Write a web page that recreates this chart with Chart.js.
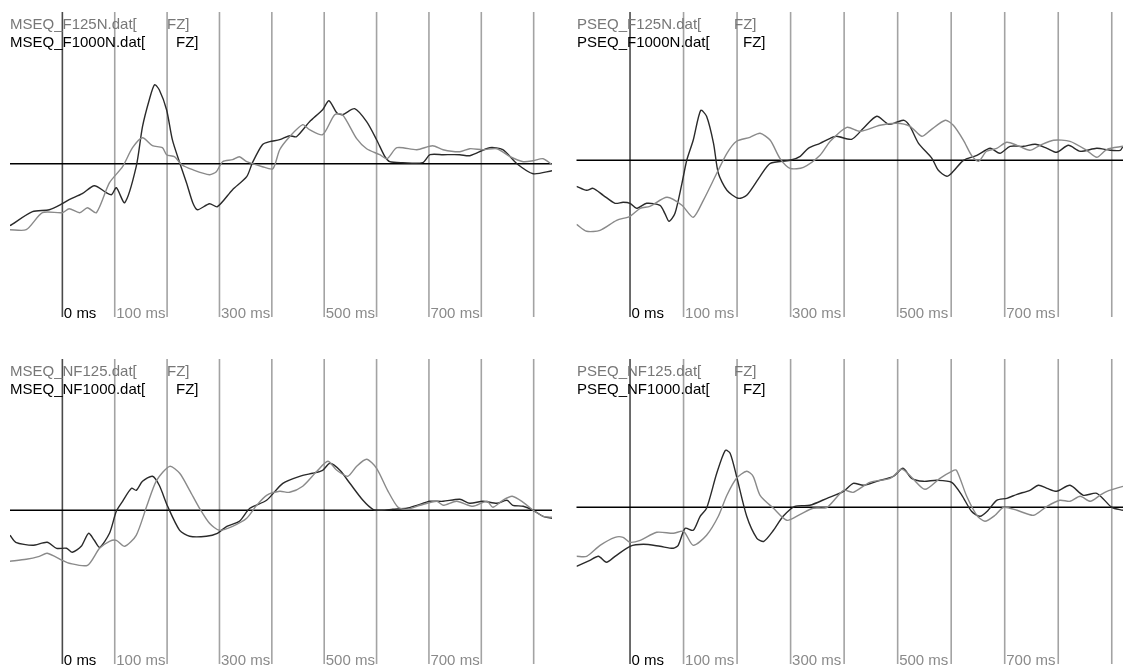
<!DOCTYPE html>
<html>
<head>
<meta charset="utf-8">
<script src="https://cdn.jsdelivr.net/npm/chart.js@4.4.1/dist/chart.umd.min.js"></script>
<style>
    body { margin: 0; background: #fff; }
    #page { position: relative; width: 1123px; height: 668px; overflow: hidden; background: #fff; }
    .panel { position: absolute; }
    .title { position: absolute; font: 15px "Liberation Sans", Arial, sans-serif; line-height: 18px; white-space: nowrap; }
    .title div { position: relative; }
    .title span { position: absolute; top: 0; }
</style>
</head>
<body>
<div id="page">
    <div class="panel" style="left:0;top:0;width:560px;height:334px"><canvas id="c0"></canvas></div>
    <div class="panel" style="left:560px;top:0;width:563px;height:334px"><canvas id="c1"></canvas></div>
    <div class="panel" style="left:0;top:347px;width:560px;height:321px"><canvas id="c2"></canvas></div>
    <div class="panel" style="left:560px;top:347px;width:563px;height:321px"><canvas id="c3"></canvas></div>
</div>
<script>
// time in ms, amplitude in arbitrary units (positive up)
const gridTicks = [0, 100, 200, 300, 400, 500, 600, 700, 800, 900];
const labelTicks = [0, 100, 300, 500, 700];

// MSEQ, filtered
const mseqF125N_t = [-100,-69,-38,0,13,33,48,65,90,115,134,153,172,191,199,214,228,249,281,294,306,325,338,352,382,402,415,434,459,472,497,520,535,562,581,606,620,639,677,707,727,759,778,803,830,855,880,899,918,935];
const mseqF125N_v = [-6.6,-6.6,-4.9,-4.9,-4.5,-4.9,-4.4,-4.9,-1.9,-0.3,1.6,2.6,1.8,1.6,0.9,0.7,-0.1,-0.6,-1.1,-0.8,0.2,0.4,0.7,0.2,-0.3,-0.5,1.4,2.7,3.9,3.4,2.9,4.9,4.9,2.5,1.5,0.9,0.5,1.6,1.4,1.8,1.4,1.2,1.5,1.4,1.5,0.7,0.2,0.3,0.5,-0.1];
const mseqF1000N_t = [-100,-57,-25,0,13,38,61,84,94,103,119,141,153,166,176,185,199,210,224,237,249,258,281,296,325,352,363,382,396,415,434,447,472,497,509,524,535,558,581,600,616,625,650,688,702,727,759,778,816,841,868,899,935];
const mseqF1000N_v = [-6.2,-4.8,-4.6,-4.0,-3.6,-3.0,-2.2,-2.9,-3.1,-2.4,-3.9,-0.3,3.7,6.4,7.9,7.4,5.4,2.4,0.1,-1.9,-3.9,-4.6,-4.0,-4.3,-2.6,-1.3,0.1,1.9,2.2,2.4,2.8,2.7,4.2,5.4,6.3,5.1,4.9,5.5,4.2,2.4,0.7,0.2,0.1,0.1,0.9,0.9,0.9,0.8,1.6,1.4,0.0,-1.0,-0.7];

// PSEQ, filtered
const pseqF125N_t = [-100,-81,-56,-25,0,19,37,69,97,118,137,162,181,199,224,243,262,280,299,324,355,374,405,430,467,498,523,545,561,589,604,623,638,651,666,685,704,723,747,766,791,822,853,872,891,921];
const pseqF125N_v = [-6.4,-7.1,-7.0,-6.0,-5.6,-4.8,-4.6,-3.7,-4.5,-5.7,-4.0,-1.3,0.7,1.9,2.3,2.7,2.0,0.2,-0.8,-0.7,0.5,1.9,3.3,2.9,3.5,3.7,3.4,2.4,3.0,4.0,3.5,2.0,0.5,-0.1,0.9,1.2,1.8,1.5,1.0,1.5,2.0,1.9,1.0,0.3,1.1,1.4];
const pseqF1000N_t = [-100,-81,-69,-50,-28,-13,0,12,31,56,65,73,84,97,106,118,132,143,156,165,181,202,218,243,262,299,318,333,355,374,386,414,436,461,483,498,512,523,539,564,576,592,604,623,648,673,691,710,735,757,779,797,819,841,872,897,916,921];
const pseqF1000N_v = [-2.6,-3.0,-2.8,-3.5,-4.3,-4.2,-4.3,-4.8,-4.3,-4.5,-5.3,-6.1,-5.3,-2.3,0.0,2.0,5.0,4.4,1.7,-1.3,-3.0,-3.8,-3.5,-1.6,-0.3,0.0,0.4,1.2,1.7,2.2,2.4,2.1,3.2,4.4,3.6,3.8,4.0,3.4,1.7,0.2,-1.0,-1.6,-1.1,0.0,0.5,1.2,0.7,1.4,1.4,1.6,1.2,0.8,1.5,0.9,1.2,1.0,1.0,1.4];

// MSEQ, not filtered
const mseqNF125_t = [-100,-69,-44,-29,0,13,48,71,90,103,119,141,161,180,205,224,243,262,281,300,325,352,371,390,415,434,459,486,507,524,545,562,581,600,621,641,658,683,715,727,753,784,811,822,841,859,880,899,918,935];
const mseqNF125_v = [-5.1,-4.9,-4.6,-4.3,-5.0,-5.3,-5.5,-3.8,-3.1,-3.0,-3.6,-2.5,0.4,3.0,4.4,3.7,2.0,0.2,-1.3,-2.0,-1.6,-0.8,0.5,1.5,1.9,1.8,2.4,3.9,4.9,4.0,3.4,4.4,5.1,4.2,2.0,0.3,0.1,0.5,0.9,0.5,0.9,0.4,0.9,0.3,1.0,1.4,0.8,0.0,-0.6,-0.7];
const mseqNF1000_t = [-100,-89,-57,-29,-11,8,19,36,50,61,71,90,103,115,132,141,153,172,185,201,224,243,275,296,314,338,358,390,421,459,478,497,511,530,549,574,593,610,631,658,677,702,727,759,778,803,830,849,860,880,899,918,935];
const mseqNF1000_v = [-2.5,-3.2,-3.5,-3.2,-3.8,-3.8,-4.2,-3.6,-2.3,-3.0,-3.7,-2.3,-0.1,0.9,2.2,2.0,2.9,3.4,2.5,0.4,-2.0,-2.6,-2.6,-2.3,-1.6,-1.1,0.2,1.0,2.7,3.5,3.7,4.0,4.7,4.0,2.7,1.0,0.1,0.0,0.1,0.2,0.5,0.9,0.9,1.1,0.7,0.9,0.7,1.0,0.5,0.4,0.0,-0.6,-0.8];

// PSEQ, not filtered
const pseqNF125_t = [-100,-81,-56,-28,-13,0,19,50,81,100,118,143,165,181,199,218,230,243,268,293,318,342,368,399,417,448,486,508,526,551,579,601,610,629,648,663,682,698,723,754,779,803,822,841,860,878,891,921];
const pseqNF125_v = [-4.9,-4.9,-3.8,-3.0,-3.0,-3.5,-3.3,-2.5,-2.6,-2.4,-3.8,-2.8,-0.9,1.2,2.9,3.6,3.1,1.2,-0.1,-1.3,-0.7,-0.1,0.0,1.7,1.5,2.5,2.9,3.8,3.0,1.8,2.9,3.6,3.7,1.1,-0.8,-1.4,-0.8,0.0,-0.3,-0.8,0.1,0.7,0.6,1.1,0.6,1.2,1.6,2.1];
const pseqNF1000_t = [-100,-75,-59,-44,-28,0,25,56,81,90,103,118,131,143,162,178,187,199,218,237,250,268,286,308,336,368,399,417,436,461,492,510,526,548,573,601,620,638,654,669,685,704,723,747,763,779,797,822,847,872,900,921];
const pseqNF1000_v = [-5.9,-5.3,-4.9,-5.5,-4.9,-3.9,-3.7,-3.9,-4.1,-3.8,-2.1,-2.3,-0.9,-0.1,3.4,5.7,5.4,3.1,-0.9,-3.1,-3.4,-2.3,-0.9,0.1,0.2,0.9,1.6,2.4,2.2,2.6,3.1,3.9,2.9,2.6,2.7,2.5,1.2,-0.4,-0.9,-0.3,0.7,0.9,1.3,1.7,2.2,1.9,1.6,2.2,1.2,1.4,0.0,-0.3];

const GRAY = "#8a8a8a";
const DARK = "#2a2a2a";
const FONT = '15px "Liberation Sans", Arial, sans-serif';

const panels = [
    { id: "c0", names: ["MSEQ_F125N.dat[", "MSEQ_F1000N.dat["],
      series: [[mseqF125N_t, mseqF125N_v], [mseqF1000N_t, mseqF1000N_v]],
      xMax: 935, yMin: -15.33, yMax: 15.17, pad: { left: 10, right: 8, top: 12, bottom: 17 }, titleLeft: 10 },
    { id: "c1", names: ["PSEQ_F125N.dat[", "PSEQ_F1000N.dat["],
      series: [[pseqF125N_t, pseqF125N_v], [pseqF1000N_t, pseqF1000N_v]],
      xMax: 921, yMin: -15.67, yMax: 14.83, pad: { left: 16.5, right: 0, top: 12, bottom: 17 }, titleLeft: 17 },
    { id: "c2", names: ["MSEQ_NF125.dat[", "MSEQ_NF1000.dat["],
      series: [[mseqNF125_t, mseqNF125_v], [mseqNF1000_t, mseqNF1000_v]],
      xMax: 935, yMin: -15.37, yMax: 15.13, pad: { left: 10, right: 8, top: 12, bottom: 4 }, titleLeft: 10 },
    { id: "c3", names: ["PSEQ_NF125.dat[", "PSEQ_NF1000.dat["],
      series: [[pseqNF125_t, pseqNF125_v], [pseqNF1000_t, pseqNF1000_v]],
      xMax: 921, yMin: -15.67, yMax: 14.83, pad: { left: 16.5, right: 0, top: 12, bottom: 4 }, titleLeft: 17 },
];

// vertical time lines, zero line and the "xx ms" labels along the bottom
const eegGrid = {
    id: "eegGrid",
    beforeDatasetsDraw(chart) {
        const { ctx, chartArea: a, scales: { x, y } } = chart;
        ctx.save();
        ctx.lineWidth = 1.6;
        gridTicks.forEach((t) => {
            const px = x.getPixelForValue(t);
            ctx.strokeStyle = t === 0 ? "#4a4a4a" : "#a3a3a3";
            ctx.beginPath();
            ctx.moveTo(px, a.top);
            ctx.lineTo(px, a.bottom);
            ctx.stroke();
        });
        const zy = y.getPixelForValue(0);
        ctx.strokeStyle = "#000";
        ctx.lineWidth = 1.5;
        ctx.beginPath();
        ctx.moveTo(a.left, zy);
        ctx.lineTo(a.right, zy);
        ctx.stroke();

        ctx.font = FONT;
        ctx.textBaseline = "alphabetic";
        labelTicks.forEach((t) => {
            ctx.fillStyle = t === 0 ? "#000" : GRAY;
            ctx.fillText(`${t} ms`, x.getPixelForValue(t) + 1.5, a.bottom + 1);
        });
        ctx.restore();
    },
};

function makePanel(p) {
    const canvas = document.getElementById(p.id);
    const colors = [GRAY, DARK];

    new Chart(canvas.getContext("2d"), {
        type: "line",
        data: {
            datasets: p.series.map(([ts, vs], i) => ({
                label: p.names[i],
                data: ts.map((t, k) => ({ x: t, y: vs[k] })),
                borderColor: colors[i],
                borderWidth: 1.4,
                pointRadius: 0,
                tension: 0.25,
                fill: false,
            })),
        },
        plugins: [eegGrid],
        options: {
            responsive: true,
            maintainAspectRatio: false,
            animation: false,
            events: [],
            layout: { padding: p.pad },
            plugins: { legend: { display: false }, tooltip: { enabled: false } },
            scales: {
                x: { type: "linear", min: -100, max: p.xMax, display: false },
                y: { min: p.yMin, max: p.yMax, display: false },
            },
        },
    });

    // two-line file header, "FZ]" sits at a tab stop
    const title = document.createElement("div");
    title.className = "title";
    title.style.left = `${p.titleLeft}px`;
    title.style.top = "15px";
    title.innerHTML = p.names.map((n, i) =>
        `<div style="color:${i === 0 ? "#777" : "#000"}">${n}<span style="left:${i === 0 ? 157 : 166}px">FZ]</span></div>`
    ).join("");
    canvas.parentNode.appendChild(title);
}

panels.forEach(makePanel);
</script>
</body>
</html>
